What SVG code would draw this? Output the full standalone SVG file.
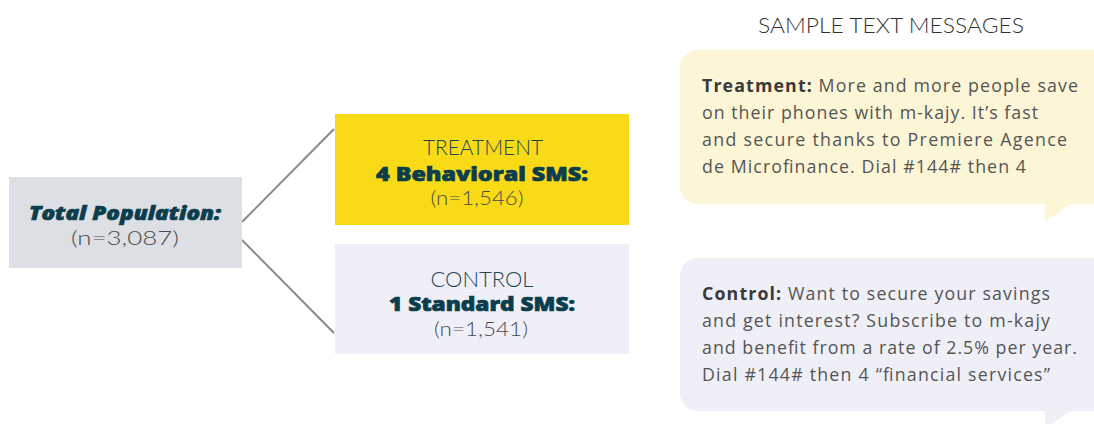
<svg xmlns="http://www.w3.org/2000/svg" width="1094" height="424" viewBox="0 0 1094 424">
<style>
.lbl{font-family:"Open Sans","Noto Sans","Liberation Sans",sans-serif;text-anchor:middle}
.light{font-family:Lato,"Open Sans",sans-serif;font-weight:300;font-size:21px;fill:#1f4656}
.heavy{font-weight:800;font-size:20px;fill:#0c3d4d;stroke:#0c3d4d;stroke-width:0.7}
.n{font-family:Lato,"Open Sans",sans-serif;font-weight:300;font-size:20px;fill:#4a4a4a}
.msg{font-family:"Open Sans","Noto Sans","Liberation Sans",sans-serif;font-size:17.8px;fill:#555}
.msg .b{font-weight:700;fill:#3a3a3a}
.conn{stroke:#8a8a8a;stroke-width:2;fill:none}
</style>
<rect width="1094" height="424" fill="#fff"/>
<g id="connectors">
<line class="conn" x1="242" y1="222" x2="334" y2="129"/>
<line class="conn" x1="242" y1="240" x2="334" y2="333"/>
</g>
<g id="total">
<rect x="9" y="177" width="233" height="91" fill="#dcdfe3"/>
<text class="lbl heavy" x="125" y="220" font-style="italic" textLength="192" lengthAdjust="spacingAndGlyphs">Total Population:</text>
<text class="lbl n" x="125" y="245" textLength="108" lengthAdjust="spacingAndGlyphs">(n=3,087)</text>
</g>
<g id="treatment">
<rect x="335" y="114" width="294" height="111" fill="#f9da17"/>
<text class="lbl light" x="483" y="155" textLength="120" lengthAdjust="spacingAndGlyphs">TREATMENT</text>
<text class="lbl heavy" x="482" y="181" textLength="212" lengthAdjust="spacingAndGlyphs">4 Behavioral SMS:</text>
<text class="lbl n" x="477" y="205" textLength="93" lengthAdjust="spacingAndGlyphs">(n=1,546)</text>
</g>
<g id="control">
<rect x="335" y="244" width="294" height="110" fill="#efeff7"/>
<text class="lbl light" x="482" y="287" textLength="103" lengthAdjust="spacingAndGlyphs">CONTROL</text>
<text class="lbl heavy" x="482" y="311" textLength="186" lengthAdjust="spacingAndGlyphs">1 Standard SMS:</text>
<text class="lbl n" x="481" y="336" textLength="94" lengthAdjust="spacingAndGlyphs">(n=1,541)</text>
</g>
<g id="title">
<text x="891" y="33" font-family="Lato,'Open Sans',sans-serif" font-size="22" font-weight="300" fill="#333" text-anchor="middle" textLength="266" lengthAdjust="spacingAndGlyphs">SAMPLE TEXT MESSAGES</text>
</g>
<g id="treatment-msg">
<path d="M698,50 H1094 V204 H1070 L1045,222 V204 H698 A18,18 0 0 1 680,186 V68 A18,18 0 0 1 698,50 Z" fill="#fcf5d6"/>
<text class="msg" x="702" y="92" textLength="376"><tspan class="b">Treatment:</tspan> More and more people save</text>
<text class="msg" x="702" y="119" textLength="336">on their phones with m-kajy. It’s fast</text>
<text class="msg" x="702" y="146" textLength="365">and secure thanks to Premiere Agence</text>
<text class="msg" x="702" y="173" textLength="324">de Microfinance. Dial #144# then 4</text>
</g>
<g id="control-msg">
<path d="M698,258 H1094 V411 H1070 L1045,429 V411 H698 A18,18 0 0 1 680,393 V276 A18,18 0 0 1 698,258 Z" fill="#efeff7"/>
<text class="msg" x="702" y="300" textLength="348"><tspan class="b">Control:</tspan> Want to secure your savings</text>
<text class="msg" x="702" y="327" textLength="348">and get interest? Subscribe to m-kajy</text>
<text class="msg" x="702" y="354" textLength="375">and benefit from a rate of 2.5% per year.</text>
<text class="msg" x="702" y="381" textLength="348">Dial #144# then 4 “financial services”</text>
</g>
</svg>
